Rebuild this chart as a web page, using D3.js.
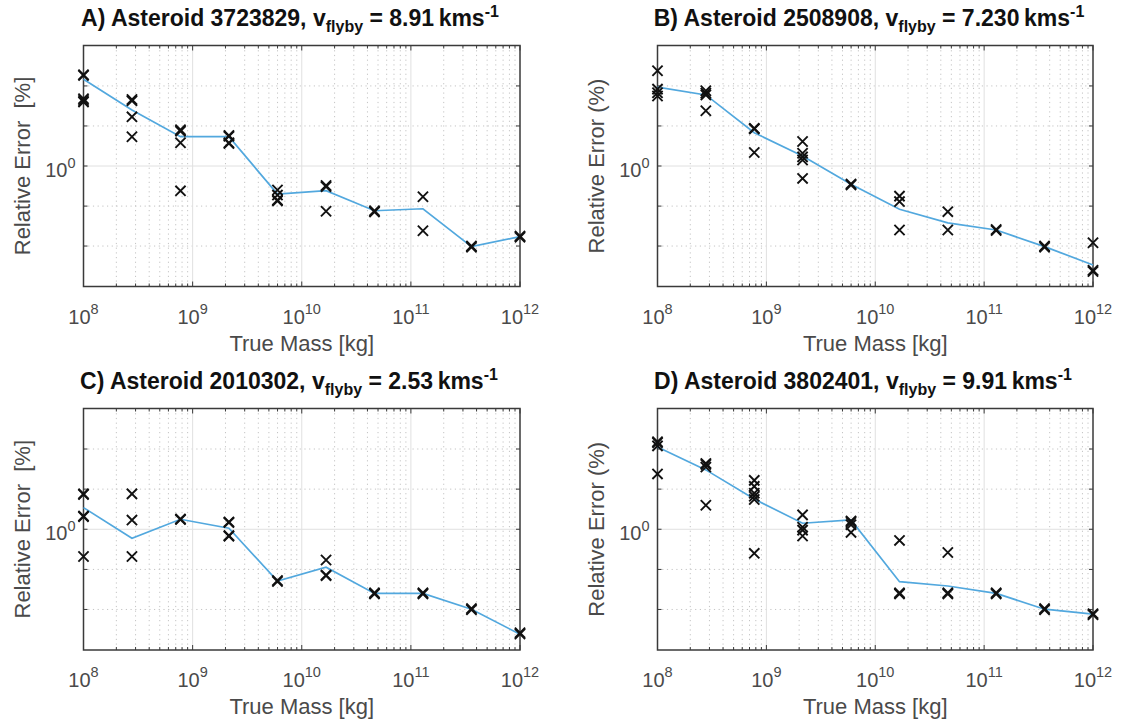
<!DOCTYPE html>
<html><head><meta charset="utf-8">
<script src="https://cdn.jsdelivr.net/npm/d3@7"></script>
<style>body{margin:0;background:#fff} svg{display:block}</style>
</head><body><svg id="c" width="1123" height="725"></svg>
<script>
// ---------- data ----------
const masses = [1e8, 2.78e8, 7.74e8, 2.15e9, 5.99e9, 1.67e10, 4.64e10, 1.29e11, 3.59e11, 1e12];
const xTicks = [1e8, 1e9, 1e10, 1e11, 1e12];
const xTickExps = ["8", "9", "10", "11", "12"];
const yDomain = [0.5, 2];
const yGrid = [0.631, 0.794, 1, 1.259, 1.585];
const yTickLabels = [{v: 1, exp: "0"}];

const titles = ["A) Asteroid 3723829, v", "B) Asteroid 2508908, v", "C) Asteroid 2010302, v", "D) Asteroid 3802401, v"];
const speeds = ["8.91", "7.230", "2.53", "9.91"];
const yLabels = ["Relative Error  [%]", "Relative Error (%)", "Relative Error  [%]", "Relative Error (%)"];

const lineA = [1.647, 1.380, 1.184, 1.184, 0.851, 0.868, 0.773, 0.782, 0.629, 0.666];
const trialsA = [[1.690, 1.684, 1.472, 1.458, 1.445], [1.466, 1.455, 1.327, 1.183], [1.232, 1.222, 1.143, 0.867], [1.192, 1.186, 1.143, 1.138], [0.871, 0.846, 0.822, 0.818], [0.894, 0.888, 0.771], [0.773, 0.768], [0.838, 0.689], [0.631, 0.627], [0.668, 0.664]];

const lineB = [1.574, 1.505, 1.211, 1.059, 0.900, 0.780, 0.721, 0.692, 0.629, 0.566];
const trialsB = [[1.730, 1.556, 1.524, 1.496], [1.542, 1.521, 1.505, 1.374], [1.242, 1.238, 1.081], [1.151, 1.076, 1.054, 1.035, 0.931], [0.902, 0.897], [0.841, 0.815, 0.692], [0.769, 0.692], [0.694, 0.690], [0.631, 0.627], [0.643, 0.549, 0.545]];

const lineC = [1.132, 0.950, 1.059, 1.006, 0.743, 0.804, 0.692, 0.692, 0.632, 0.547];
const trialsC = [[1.225, 1.221, 1.079, 1.075, 0.855], [1.225, 1.054, 0.855], [1.061, 1.057], [1.043, 1.039, 0.964, 0.961], [0.745, 0.741], [0.838, 0.769, 0.766], [0.694, 0.690], [0.694, 0.690], [0.634, 0.630], [0.552, 0.548]];

const lineD = [1.603, 1.406, 1.189, 1.035, 1.055, 0.740, 0.722, 0.692, 0.632, 0.614];
const trialsD = [[1.652, 1.644, 1.614, 1.374], [1.459, 1.451, 1.429, 1.148], [1.324, 1.279, 1.230, 1.208, 1.186, 0.871], [1.086, 1.012, 0.995, 0.962], [1.049, 1.041, 1.026, 0.982], [0.938, 0.694, 0.690], [0.875, 0.694, 0.690], [0.694, 0.690], [0.634, 0.630], [0.616, 0.612]];

const lines = [lineA, lineB, lineC, lineD];
const trials = [trialsA, trialsB, trialsC, trialsD];

// ---------- layout ----------
const frames = [
  {l: 83.5, t: 45.5, r: 520, b: 286.5, tc: 290},
  {l: 657.5, t: 45.5, r: 1093, b: 286.5, tc: 869},
  {l: 83.5, t: 408.5, r: 520, b: 650, tc: 289},
  {l: 657.5, t: 408.5, r: 1093, b: 650, tc: 863}
];
const FONT = "'Liberation Sans', Arial, Helvetica, sans-serif";
const svg = d3.select("#c").style("font-family", FONT);

const minorX = [];
for (let k = 8; k < 12; k++) for (let m = 2; m <= 9; m++) minorX.push(m * Math.pow(10, k));

frames.forEach((f, i) => {
  const x = d3.scaleLog().domain([1e8, 1e12]).range([f.l, f.r]);
  const y = d3.scaleLog().domain(yDomain).range([f.b, f.t]);
  const g = svg.append("g");

  // minor grid (dotted)
  g.selectAll(".mgx").data(minorX).join("line")
    .attr("x1", d => x(d)).attr("x2", d => x(d)).attr("y1", f.t).attr("y2", f.b)
    .attr("stroke", "#c4c4c4").attr("stroke-width", 1).attr("stroke-dasharray", "1.2,3.5");
  g.selectAll(".mgy").data(yGrid.filter(v => v !== 1)).join("line")
    .attr("x1", f.l).attr("x2", f.r).attr("y1", d => y(d)).attr("y2", d => y(d))
    .attr("stroke", "#c4c4c4").attr("stroke-width", 1).attr("stroke-dasharray", "1.2,3.5");
  // major grid
  g.selectAll(".gx").data(xTicks.slice(1, -1)).join("line")
    .attr("x1", d => x(d)).attr("x2", d => x(d)).attr("y1", f.t).attr("y2", f.b)
    .attr("stroke", "#e0e0e0").attr("stroke-width", 1);
  g.selectAll(".gy").data(yGrid.filter(v => v === 1)).join("line")
    .attr("x1", f.l).attr("x2", f.r).attr("y1", d => y(d)).attr("y2", d => y(d))
    .attr("stroke", "#e0e0e0").attr("stroke-width", 1);

  // inner ticks
  const tk = g.append("g").attr("stroke", "#3a3a3a").attr("stroke-width", 1);
  [f.b, f.t].forEach((yy, j) => {
    const s = j === 0 ? -1 : 1;
    tk.selectAll(null).data(xTicks).join("line")
      .attr("x1", d => x(d)).attr("x2", d => x(d)).attr("y1", yy).attr("y2", yy + s * 5);
    tk.selectAll(null).data(minorX).join("line")
      .attr("x1", d => x(d)).attr("x2", d => x(d)).attr("y1", yy).attr("y2", yy + s * 3);
  });
  [f.l, f.r].forEach((xx, j) => {
    const s = j === 0 ? 1 : -1;
    tk.selectAll(null).data(yGrid).join("line")
      .attr("x1", xx).attr("x2", xx + s * 4).attr("y1", d => y(d)).attr("y2", d => y(d));
  });

  // frame
  g.append("rect").attr("x", f.l).attr("y", f.t).attr("width", f.r - f.l).attr("height", f.b - f.t)
    .attr("fill", "none").attr("stroke", "#3a3a3a").attr("stroke-width", 1.5);

  // line
  const lg = d3.line().x((d, k) => x(masses[k])).y(d => y(d));
  g.append("path").datum(lines[i]).attr("d", lg)
    .attr("fill", "none").attr("stroke", "#52a8de").attr("stroke-width", 1.7);

  // markers
  const pts = [];
  trials[i].forEach((arr, k) => arr.forEach(v => pts.push([masses[k], v])));
  const r = 5.1;
  g.selectAll(".mk").data(pts).join("path")
    .attr("d", d => {
      const cx = x(d[0]), cy = y(d[1]);
      return `M${cx - r},${cy - r}L${cx + r},${cy + r}M${cx - r},${cy + r}L${cx + r},${cy - r}`;
    })
    .attr("stroke", "#111").attr("stroke-width", 1.9).attr("fill", "none");

  // x tick labels
  xTicks.forEach((t, k) => {
    const tx = g.append("text").attr("x", x(t)).attr("y", f.b + 37)
      .attr("text-anchor", "middle").attr("fill", "#4a4a4a").attr("font-size", 20);
    tx.append("tspan").text("10");
    tx.append("tspan").text(xTickExps[k]).attr("font-size", 14.5).attr("dy", -10);
  });
  // y tick label
  yTickLabels.forEach(t => {
    const ty = g.append("text").attr("x", f.l - 8).attr("y", y(t.v) + 11)
      .attr("text-anchor", "end").attr("fill", "#4a4a4a").attr("font-size", 20);
    ty.append("tspan").text("10");
    ty.append("tspan").text(t.exp).attr("font-size", 14.5).attr("dy", -9);
  });

  // axis labels
  g.append("text").attr("x", (f.l + f.r) / 2).attr("y", f.b + 64)
    .attr("text-anchor", "middle").attr("fill", "#4a4a4a").attr("font-size", 22)
    .text("True Mass [kg]");
  g.append("text").attr("transform", `translate(${f.l - 54},${(f.t + f.b) / 2}) rotate(-90)`)
    .attr("text-anchor", "middle").attr("fill", "#4a4a4a").attr("font-size", 22)
    .style("white-space", "pre").text(yLabels[i]);

  // title
  const tt = g.append("text").attr("x", f.tc).attr("y", f.t - 20)
    .attr("text-anchor", "middle").attr("fill", "#111").attr("font-size", 23).attr("font-weight", "bold");
  tt.append("tspan").text(titles[i]);
  tt.append("tspan").text("flyby").attr("font-size", 16).attr("dy", 6);
  tt.append("tspan").text(" = " + speeds[i] + "\u2009kms").attr("dy", -6);
  tt.append("tspan").text("-1").attr("font-size", 16).attr("dy", -9);
});
</script></body></html>
